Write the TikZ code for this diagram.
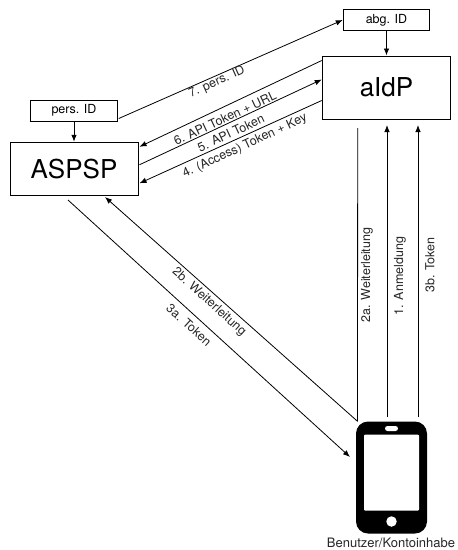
\documentclass[tikz,border=0pt]{standalone}
\usepackage{fontspec}
\setmainfont{TeX Gyre Heros}
\usetikzlibrary{arrows.meta}
\tikzset{
  box/.style={draw=black,line width=1pt,fill=white,inner sep=0pt,anchor=center},
  flow/.style={draw=black,line width=0.8pt,-{Latex[length=7pt,width=5.5pt]}},
  lab/.style={font=\fontsize{12.5}{14}\selectfont,inner sep=0pt,text=black!85},
  big/.style={font=\fontsize{26}{30}\selectfont},
  small/.style={font=\fontsize{12.5}{14}\selectfont}
}
\begin{document}
\begin{tikzpicture}[x=1pt,y=-1pt]
\useasboundingbox (0,0) rectangle (458,550);
\node[box,big,minimum width=128.5pt,minimum height=63pt] (aidp) at (386.5,87.5) {aIdP};
\node[box,big,minimum width=128pt,minimum height=53.5pt] (aspsp) at (74,169) {ASPSP};
\node[box,small,minimum width=86.5pt,minimum height=21pt] (abg) at (386.5,20) {abg. ID};
\node[box,small,minimum width=86.5pt,minimum height=21pt] (pers) at (74,110.5) {pers. ID};
% phone
\node[fill=black,rounded corners=12pt,minimum width=71pt,minimum height=112pt,inner sep=0pt] (phone) at (391.5,477.5) {};
\node[fill=white,minimum width=55pt,minimum height=76pt,inner sep=0pt,rounded corners=1pt] (screen) at (391.5,472.5) {};
\node[fill=white,minimum width=13pt,minimum height=5pt,inner sep=0pt,rounded corners=2.5pt] (speaker) at (391.5,428.5) {};
\node[fill=white,circle,minimum size=10.5pt,inner sep=0pt] (home) at (391.5,521.5) {};
\node[font=\fontsize{13}{15}\selectfont,inner sep=0pt,text=black!85] (user) at (391,543) {Benutzer/Kontoinhabe};
% connectors
\draw[flow] (abg.south) -- (aidp.north);
\draw[flow] (pers.south) -- (aspsp.north);
\coordinate (e7) at ([xshift=1pt,yshift=-8pt]pers.east);
\draw[flow] (e7) -- (abg.west);
\coordinate (a6) at ([yshift=-5pt]aidp.north west);
\coordinate (s6) at ([xshift=1pt,yshift=-5pt]aspsp.north east);
\coordinate (s5) at ([xshift=1pt,yshift=-23pt]aspsp.north east);
\coordinate (a5) at ([yshift=-24pt]aidp.north west);
\coordinate (a4) at ([yshift=-45pt]aidp.north west);
\coordinate (s4) at ([xshift=1pt,yshift=13pt]aspsp.south east);
\draw[flow] (a6) -- (s6);
\draw[flow] (s5) -- (a5);
\draw[flow] (a4) -- (s4);
\coordinate (p2a) at ([xshift=1.7pt]phone.north west);
\coordinate (t2a) at (357.7,128);
\coordinate (p1) at (387,417);
\coordinate (t1) at (387,125);
\coordinate (p3) at (418,417);
\coordinate (t3) at (418,125);
\coordinate (t2b) at (105,197);
\coordinate (s3) at (68,200);
\coordinate (e3) at (350,457);
\draw[draw=black,line width=0.8pt] (p2a) -- (t2a);
\draw[flow] (p1) -- (t1);
\draw[flow] (p3) -- (t3);
\draw[flow] (p2a) -- (t2b);
\draw[flow] (s3) -- (e3);
% labels
\node[lab,rotate=24] (l7) at (217,82) {7. pers. ID};
\node[lab,rotate=25] (l6) at (225,118) {6. API Token + URL};
\node[lab,rotate=25] (l5) at (231,133) {5. API Token};
\node[lab,rotate=25] (l4) at (245,146) {4. (Access) Token + Key};
\node[lab,rotate=-42] (l2b) at (209,302) {2b. Weiterleitung};
\node[lab,rotate=-42] (l3a) at (189,325) {3a. Token};
\node[lab,rotate=90] (l2a) at (367,275) {2a. Weiterleitung};
\node[lab,rotate=90] (l1) at (400,276) {1. Anmeldung};
\node[lab,rotate=90] (l3b) at (430,265) {3b. Token};
\end{tikzpicture}
\end{document}
